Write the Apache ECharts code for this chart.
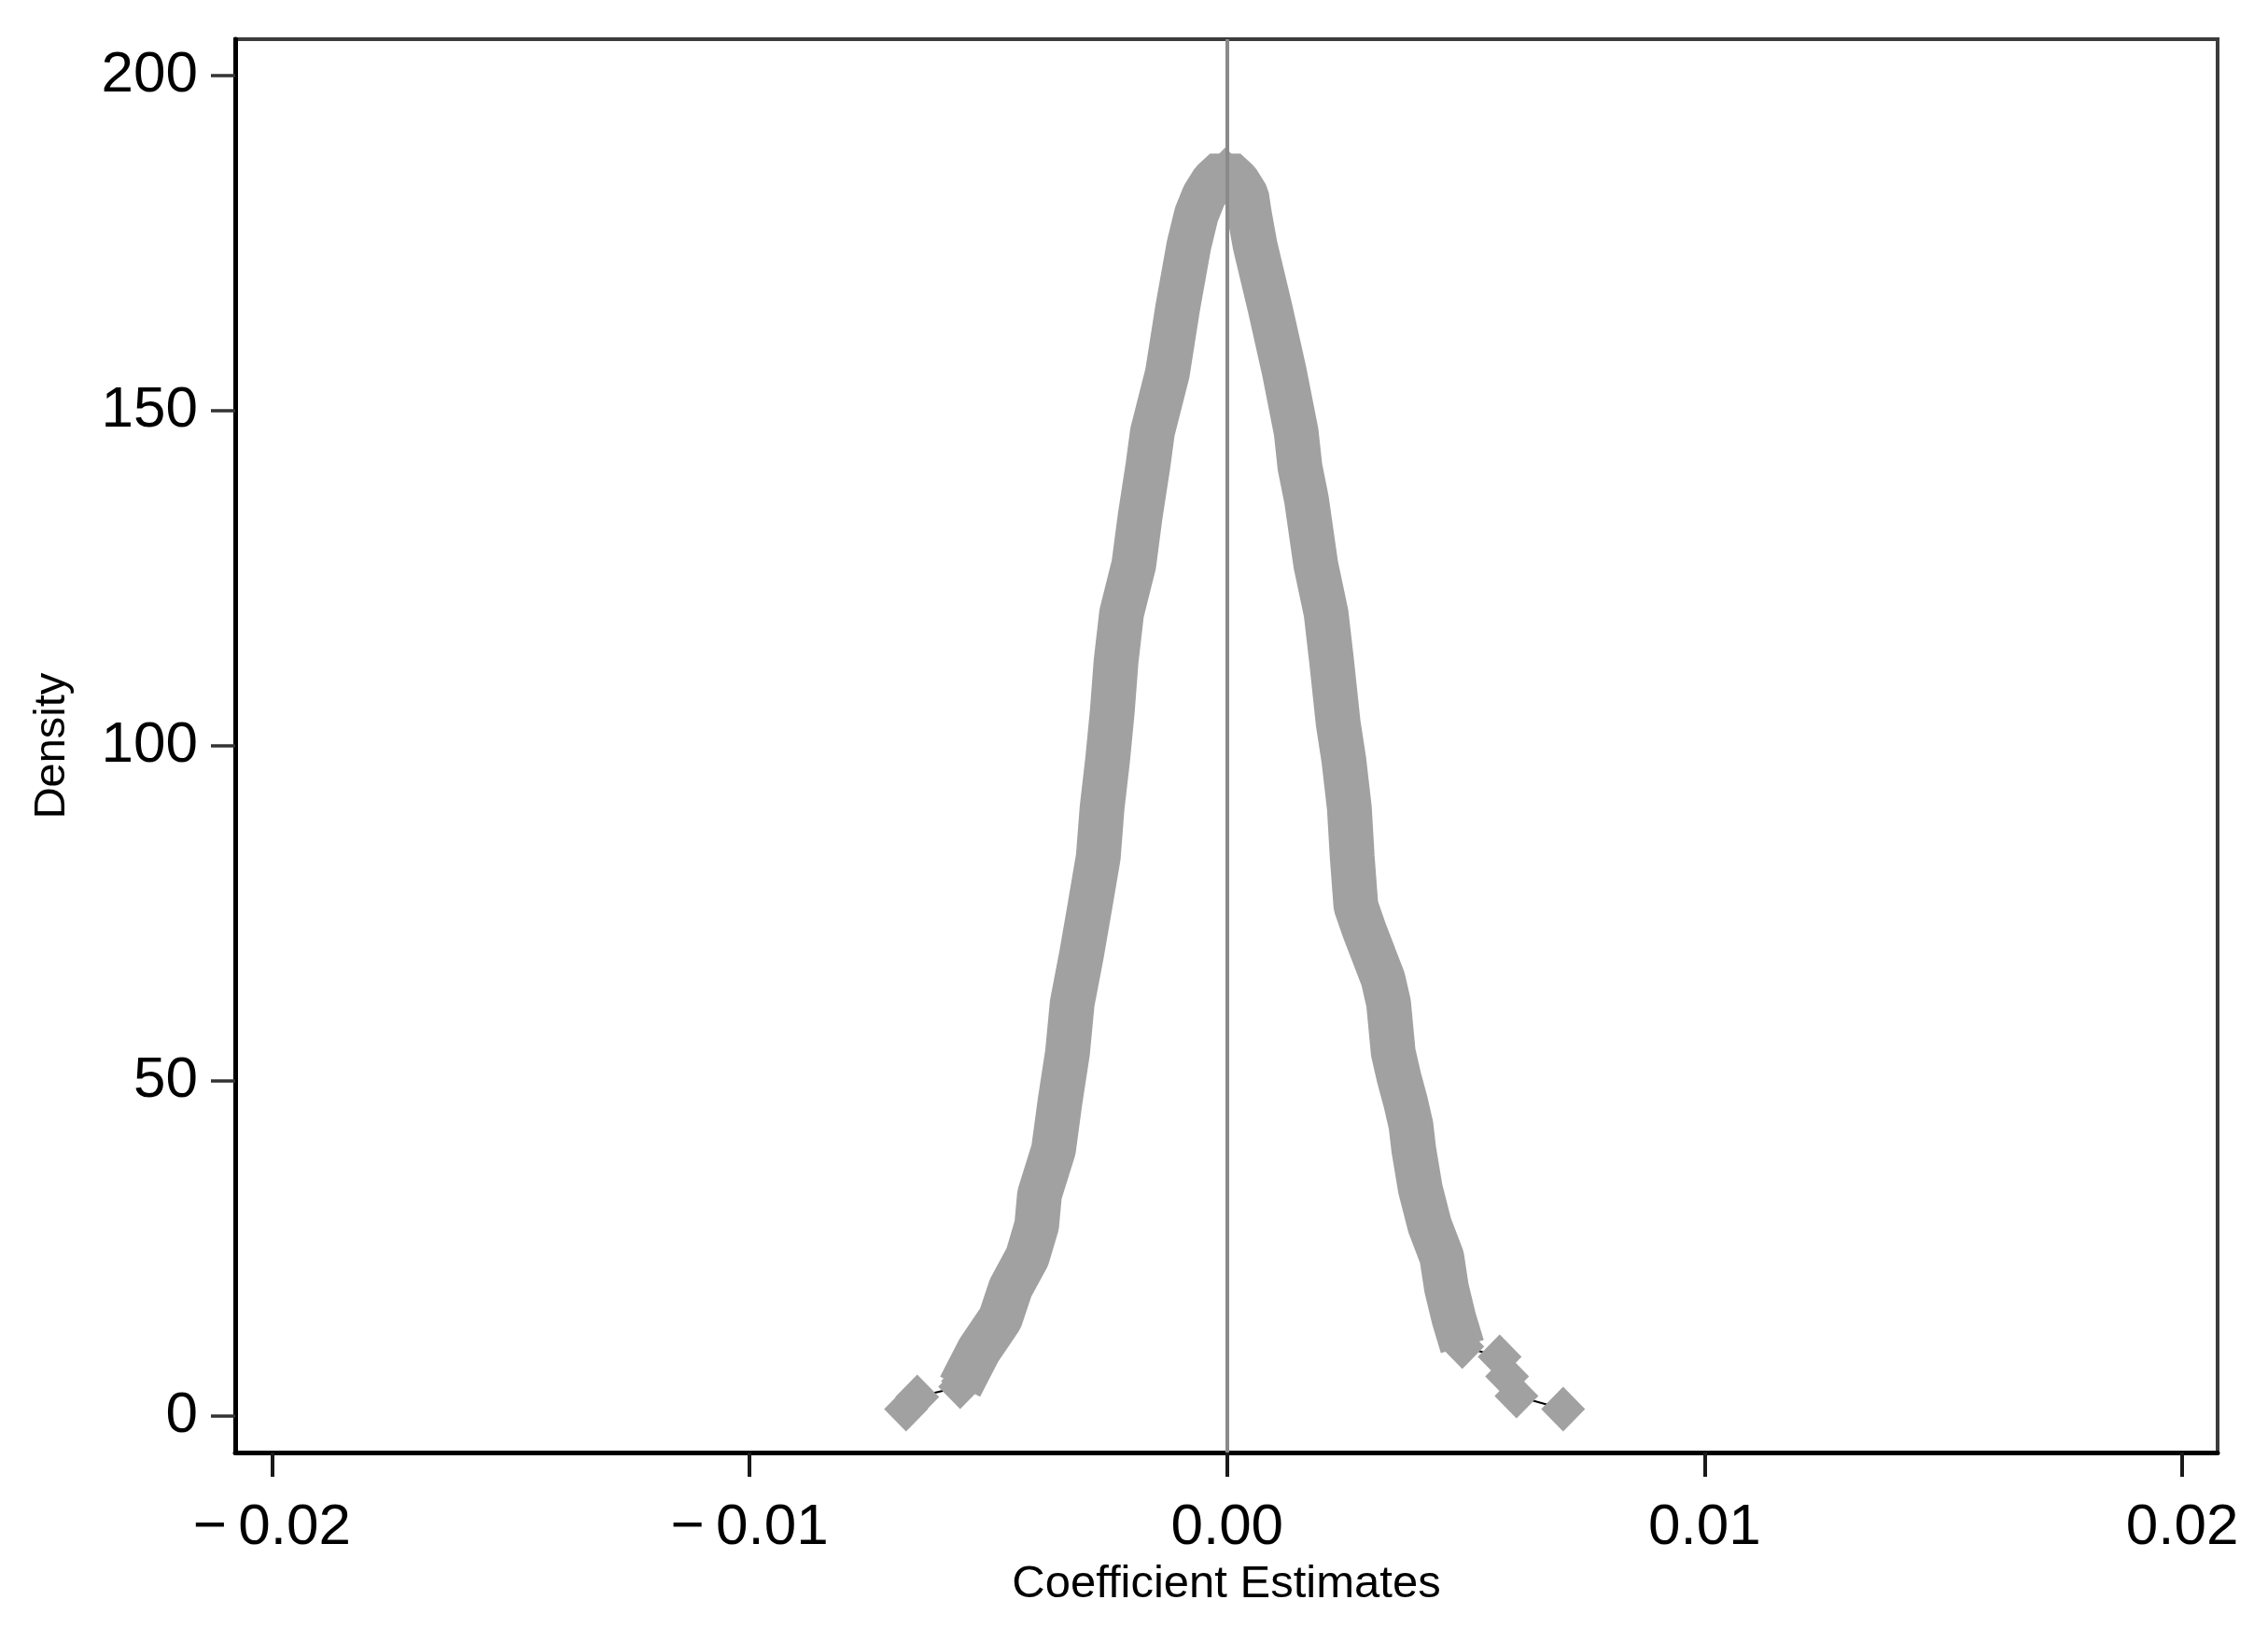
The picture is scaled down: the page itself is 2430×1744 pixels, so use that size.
<!DOCTYPE html>
<html>
<head>
<meta charset="utf-8">
<script src="https://cdn.jsdelivr.net/npm/echarts@6/dist/echarts.min.js"></script>
<style>
html,body{margin:0;padding:0;background:#fff;}
#chart{width:2430px;height:1744px;}
</style>
</head>
<body>
<div id="chart"></div>
<script>
// Coefficient estimates (x) and kernel density (y)
const coefEstimates = [-0.006723, -0.006489, -0.005590, -0.005531, -0.005199, -0.004749, -0.004534, -0.004183, -0.003987, -0.003928,
  -0.003635, -0.003498, -0.003342, -0.003244, -0.003049, -0.002873, -0.002697, -0.002619, -0.002502, -0.002404,
  -0.002326, -0.002209, -0.001954, -0.001818, -0.001661, -0.001564, -0.001251, -0.001036, -0.000801, -0.000645,
  -0.000489, -0.000293, -0.000039,
  0.000215, 0.000410, 0.000469, 0.000586, 0.000899, 0.001192, 0.001446, 0.001524, 0.001661, 0.001857,
  0.002072, 0.002189, 0.002326, 0.002443, 0.002560, 0.002619, 0.002697, 0.002873, 0.003069, 0.003264,
  0.003381, 0.003479, 0.003596, 0.003733, 0.003850, 0.003909, 0.004046, 0.004241, 0.004495, 0.004593,
  0.004749, 0.004925, 0.005707, 0.005863, 0.006059, 0.007036];
const density = [1.07, 2.88, 4.41, 5.25, 9.84, 14.57, 19.16, 23.76, 28.49, 33.08,
  39.76, 47.00, 54.24, 61.61, 68.85, 76.09, 83.47, 90.70, 97.94, 105.18,
  112.55, 119.79, 127.03, 134.40, 141.64, 146.79, 155.56, 165.30, 174.63, 179.22,
  182.00, 184.23, 185.90,
  184.23, 182.00, 179.22, 174.63, 165.30, 155.98, 146.79, 141.64, 136.77, 127.03,
  119.79, 112.55, 103.37, 97.94, 90.70, 83.47, 76.09, 72.47, 68.85, 65.23,
  61.61, 54.24, 50.62, 47.00, 43.38, 39.76, 33.92, 28.49, 23.76, 19.16,
  14.57, 10.40, 8.87, 5.94, 3.02, 1.07];

const xTickValues = [-0.02, -0.01, 0, 0.01, 0.02];
const xTickLabels = ['\u2212\u20090.02', '\u2212\u20090.01', '0.00', '0.01', '0.02'];
const yTickValues = [0, 50, 100, 150, 200];
const yTickLabels = ['0', '50', '100', '150', '200'];
const refLineX = 0;
const xAxisTitle = 'Coefficient Estimates';
const yAxisTitle = 'Density';

const pts = coefEstimates.map((x, i) => [x, density[i]]);
const bandPts = pts.slice(2, pts.length - 4);

function lookup(vals, labels, v) {
  for (let i = 0; i < vals.length; i++) if (Math.abs(vals[i] - v) < 1e-9) return labels[i];
  return '';
}

const FONT = '"Liberation Sans", Arial, sans-serif';
const GRAY = '#a1a1a1';

const chart = echarts.init(document.getElementById('chart'), null, {renderer: 'canvas'});
chart.setOption({
  backgroundColor: '#ffffff',
  animation: false,
  grid: {left: 252, top: 42, width: 2124, height: 1514, show: true, borderColor: '#3c3c3c', borderWidth: 4, backgroundColor: 'transparent'},
  xAxis: {
    type: 'value', min: -0.02077, max: 0.02074,
    name: xAxisTitle, nameLocation: 'middle', nameGap: 104,
    nameTextStyle: {fontFamily: FONT, fontSize: 49, color: '#000'},
    axisLine: {show: true, onZero: false, lineStyle: {color: '#000', width: 5}},
    axisTick: {show: true, inside: false, length: 26, customValues: xTickValues, lineStyle: {color: '#1a1a1a', width: 4}},
    axisLabel: {show: true, margin: 50, customValues: xTickValues, fontFamily: FONT, fontSize: 62, color: '#000',
      formatter: v => lookup(xTickValues, xTickLabels, v)},
    splitLine: {show: false}
  },
  yAxis: {
    type: 'value', min: -5.4, max: 205.4,
    name: yAxisTitle, nameLocation: 'middle', nameGap: 172, nameRotate: 90,
    nameTextStyle: {fontFamily: FONT, fontSize: 47, color: '#000'},
    axisLine: {show: true, onZero: false, lineStyle: {color: '#000', width: 5}},
    axisTick: {show: true, inside: false, length: 26, customValues: yTickValues, lineStyle: {color: '#333', width: 3.5}},
    axisLabel: {show: true, margin: 40, customValues: yTickValues, fontFamily: FONT, fontSize: 62, color: '#000',
      formatter: v => lookup(yTickValues, yTickLabels, v)},
    splitLine: {show: false}
  },
  series: [
    {
      type: 'line', z: 2, data: pts, showSymbol: false, symbol: 'none',
      lineStyle: {color: '#000', width: 2}, silent: true,
      markLine: {symbol: 'none', silent: true, label: {show: false},
        lineStyle: {color: '#8a8a8a', width: 4, type: 'solid'},
        data: [{xAxis: refLineX}]}
    },
    {
      type: 'line', z: 3, data: bandPts, showSymbol: false, symbol: 'none',
      lineStyle: {color: GRAY, width: 48, join: 'bevel', cap: 'butt'}, silent: true
    },
    {
      type: 'scatter', z: 4, data: pts, symbol: 'diamond', symbolSize: [47, 48],
      itemStyle: {color: GRAY, opacity: 1}, silent: true
    }
  ]
});
</script>
</body>
</html>
